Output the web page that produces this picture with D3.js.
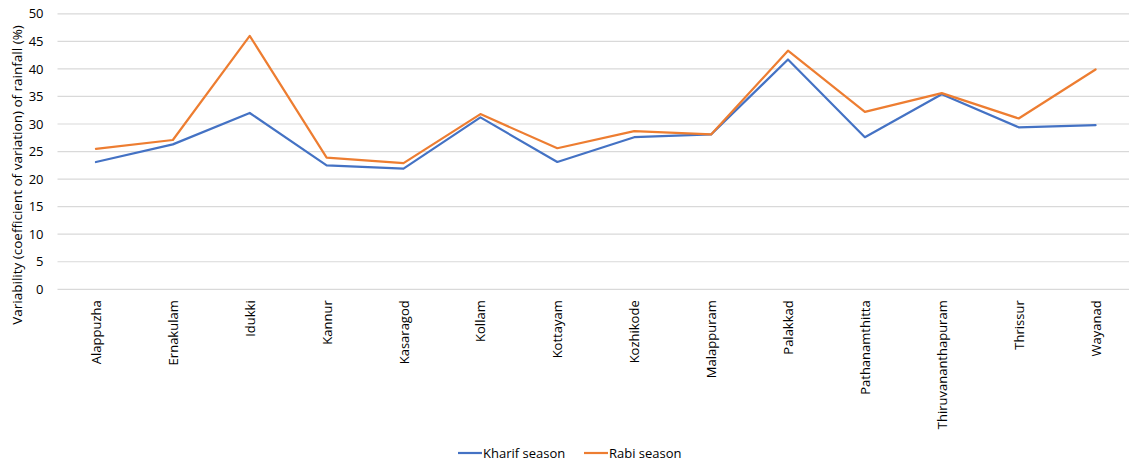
<!DOCTYPE html>
<html>
<head>
<meta charset="utf-8">
<script src="https://cdn.jsdelivr.net/npm/d3@7"></script>
<style>
  html, body { margin: 0; padding: 0; background: #fff; }
  svg { display: block; }
  text { font-family: "Open Sans", "Liberation Sans", sans-serif; fill: #000; }
</style>
</head>
<body>
<svg id="chart" width="1129" height="464"></svg>
<script>
// Districts of Kerala and rainfall variability (%) per season
const districts = ["Alappuzha", "Ernakulam", "Idukki", "Kannur", "Kasaragod", "Kollam", "Kottayam",
  "Kozhikode", "Malappuram", "Palakkad", "Pathanamthitta", "Thiruvananthapuram", "Thrissur", "Wayanad"];
const kharif = [23.1, 26.3, 32.0, 22.5, 21.9, 31.2, 23.1, 27.6, 28.1, 41.7, 27.6, 35.4, 29.4, 29.8];
const rabi   = [25.5, 27.1, 46.0, 23.9, 22.9, 31.8, 25.6, 28.7, 28.1, 43.3, 32.2, 35.6, 31.0, 39.9];
const yTicks = [0, 5, 10, 15, 20, 25, 30, 35, 40, 45, 50];
const seriesNames = ["Kharif season", "Rabi season"];
const seriesColors = ["#4472C4", "#ED7D31"];

const svg = d3.select("#chart");
const plot = { left: 57.5, right: 1134, top: 13.8, bottom: 289.3 };

const x = d3.scalePoint().domain(districts).range([plot.left, plot.right]).padding(0.5);
const y = d3.scaleLinear().domain([0, 50]).range([plot.bottom, plot.top]);

// Horizontal gridlines
svg.append("g")
  .selectAll("line")
  .data(yTicks)
  .join("line")
  .attr("x1", plot.left)
  .attr("x2", 1129)
  .attr("y1", d => y(d))
  .attr("y2", d => y(d))
  .attr("stroke", "#d9d9d9")
  .attr("stroke-width", 1.2);

// Y axis tick labels
const yAxis = d3.axisLeft(y).tickValues(yTicks).tickSize(0).tickPadding(0);
const yg = svg.append("g").attr("transform", `translate(${plot.left - 14},0)`).call(yAxis);
yg.select(".domain").remove();
yg.selectAll("text")
  .attr("font-size", 13)
  .attr("fill", "#000")
  .style("font-family", "'Open Sans', sans-serif");

// X axis category labels, rotated
const xAxis = d3.axisBottom(x).tickSize(0).tickPadding(0);
const xg = svg.append("g").attr("transform", `translate(0,${plot.bottom})`).call(xAxis);
xg.select(".domain").remove();
xg.selectAll("text")
  .attr("font-size", 13)
  .attr("fill", "#000")
  .style("font-family", "'Open Sans', sans-serif")
  .attr("text-anchor", "end")
  .attr("dy", "0.35em")
  .attr("transform", "translate(0,11) rotate(-90)")
  .attr("x", 0)
  .attr("y", 0);

// Y axis title
svg.append("text")
  .attr("transform", `translate(22,175) rotate(-90)`)
  .attr("text-anchor", "middle")
  .attr("font-size", 13.5)
  .text("Variability (coefficient of variation) of rainfall (%)");

// Series lines
const line = d3.line()
  .x((d, i) => x(districts[i]))
  .y(d => y(d));

[kharif, rabi].forEach((vals, k) => {
  svg.append("path")
    .datum(vals)
    .attr("fill", "none")
    .attr("stroke", seriesColors[k])
    .attr("stroke-width", 2.2)
    .attr("stroke-linejoin", "round")
    .attr("stroke-linecap", "round")
    .attr("d", line);
});

// Legend
const legendX = [458, 584];
const legend = svg.append("g");
seriesNames.forEach((name, k) => {
  const g = legend.append("g").attr("transform", `translate(${legendX[k]},453)`);
  g.append("line")
    .attr("x1", 0).attr("x2", 24)
    .attr("y1", 0).attr("y2", 0)
    .attr("stroke", seriesColors[k])
    .attr("stroke-width", 2.2);
  g.append("text")
    .attr("x", 25)
    .attr("dy", "0.35em")
    .attr("font-size", 13)
    .text(name);
});
</script>
</body>
</html>
